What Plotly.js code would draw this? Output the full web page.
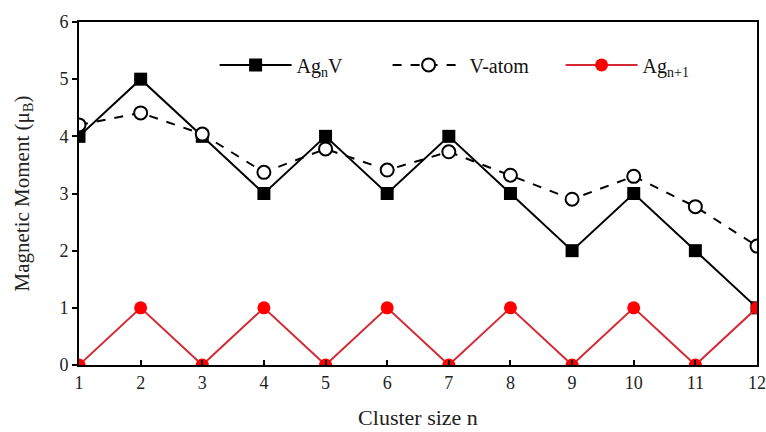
<!DOCTYPE html>
<html><head><meta charset="utf-8">
<script src="https://cdn.plot.ly/plotly-3.0.1.min.js"></script>
<style>html,body{margin:0;padding:0;background:#fff}#chart{width:766px;height:432px}</style>
</head><body><div id="chart"></div>
<script>
const clusterSize = [1,2,3,4,5,6,7,8,9,10,11,12];
const agnV = [4,5,4,3,4,3,4,3,2,3,2,1];
const vAtom = [4.2,4.41,4.04,3.37,3.78,3.41,3.73,3.32,2.9,3.3,2.77,2.08];
const agn1 = [0,1,0,1,0,1,0,1,0,1,0,1];
const names = ['Ag<sub>n</sub>V','V-atom','Ag<sub>n+1</sub>'];
const font = '"Liberation Serif", "Times New Roman", serif';
const traces = [
  {x: clusterSize, y: agnV, name: names[0], mode:'lines+markers',
   line:{color:'#000', width:2}, marker:{symbol:'square', size:13, color:'#000'}},
  {x: clusterSize, y: vAtom, name: names[1], mode:'lines+markers',
   line:{color:'#000', width:2, dash:'dash'}, marker:{symbol:'circle', size:13, color:'#fff', line:{color:'#000', width:2}}},
  {x: clusterSize, y: agn1, name: names[2], mode:'lines+markers',
   line:{color:'#d42a35', width:2}, marker:{symbol:'circle', size:13, color:'#ff0000'}}
];
const layout = {
  width:766, height:432,
  margin:{l:79, r:9, t:22, b:67},
  paper_bgcolor:'#fff', plot_bgcolor:'#fff',
  font:{family:font, size:18, color:'#222'},
  showlegend:true,
  legend:{orientation:'h', x:0.2, y:0.875, xanchor:'left', yanchor:'middle',
    itemwidth:72, entrywidth:86, entrywidthmode:'pixels', font:{family:font, size:20, color:'#111'}, bgcolor:'rgba(0,0,0,0)'},
  xaxis:{range:[1,12], tickvals:clusterSize, ticks:'inside', ticklen:5, tickcolor:'#000', tickwidth:2,
    showline:true, linecolor:'#000', linewidth:2, mirror:true, showgrid:false, zeroline:false,
    title:{text:'Cluster size n', font:{family:font, size:22}, standoff:18}, tickfont:{family:font, size:18}},
  yaxis:{range:[0,6], dtick:1, ticks:'outside', ticklen:5, tickcolor:'#000', tickwidth:2,
    showline:true, linecolor:'#000', linewidth:2, mirror:true, showgrid:false, zeroline:false,
    title:{text:'Magnetic Moment (μ<sub>B</sub>)', font:{family:font, size:21}, standoff:24}, tickfont:{family:font, size:18}}
};
Plotly.newPlot('chart', traces, layout, {displayModeBar:false, staticPlot:true});
</script></body></html>
